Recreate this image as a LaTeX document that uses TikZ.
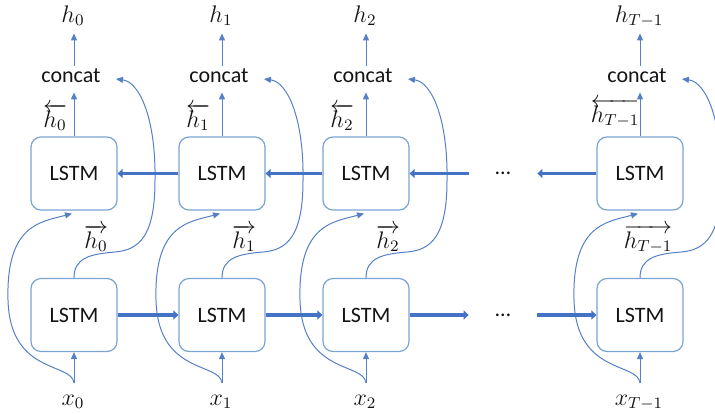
\documentclass[tikz,border=0pt]{standalone}
\usepackage{fontspec}
\setsansfont{Carlito}
\usetikzlibrary{arrows.meta}
\definecolor{linkblue}{RGB}{68,114,196}
\definecolor{curveblue}{RGB}{84,128,198}
\definecolor{boxblue}{RGB}{122,164,210}
\definecolor{inkgray}{RGB}{20,20,20}
\begin{document}
\begin{tikzpicture}[x=0.5pt,y=-0.5pt,
  lstm/.style={draw=boxblue, line width=0.6pt, rounded corners=5pt,
    minimum width=43pt, minimum height=36.5pt, inner sep=0pt,
    text=inkgray, font=\sffamily\fontsize{11}{13}\selectfont},
  cat/.style={anchor=base, inner xsep=7.5pt, inner ysep=1pt,
    text height=7pt, text depth=4pt, text=inkgray,
    font=\sffamily\fontsize{11}{13}\selectfont},
  outlbl/.style={anchor=base, inner sep=4pt, text depth=1.5pt,
    text=inkgray, font=\fontsize{11.5}{13}\selectfont},
  lbl/.style={anchor=base, inner sep=0pt, text=inkgray,
    font=\fontsize{11.5}{13}\selectfont},
  dotsnode/.style={minimum width=34pt, inner sep=0pt, text=inkgray,
    font=\sffamily\fontsize{11}{13}\selectfont},
  linkarr/.style={draw=curveblue, line width=0.5pt,
    -{Triangle[length=3.5pt,width=3pt]}},
  flowarr/.style={draw=linkblue, line width=1.75pt,
    -{Triangle[length=2.5pt,width=4.5pt]}},
]
\useasboundingbox (0,0) rectangle (715,413);
\clip (0,0) rectangle (715,413);

% one column per time step: backward LSTM on top, forward LSTM below
\foreach \i/\cx/\s/\la/\ly/\ra in {0/74/0/55/127/96, 1/222/1/198/127/244,
    2/366/2/342/127/388, 3/640/T-1/615/122/648}{
  \node[lstm] (t\i) at (\cx,173.5) {LSTM};
  \node[lstm] (b\i) at (\cx,315) {LSTM};
  \node[cat] (c\i) at (\cx-3,82) {concat};
  \node[outlbl] (o\i) at (\cx-1,22) {$h_{\s}$};
  \node[lbl] (x\i) at (\cx-1,405) {$x_{\s}$};
  \node[lbl] (lb\i) at (\la,\ly) {$\overleftarrow{h_{\s}}$};
  \node[lbl] (rb\i) at (\ra,248) {$\overrightarrow{h_{\s}}$};
  \coordinate (s\i) at (\cx,383);

  % input and output stems
  \draw[linkarr] (s\i) -- (b\i.south);
  \draw[linkarr] (t\i.north) -- (t\i.north |- c\i.south);
  \draw[linkarr] (t\i.north |- c\i.north) -- (t\i.north |- o\i.south);

  % input routed round to the backward cell
  \draw[linkarr] (s\i) .. controls (\cx-2,362) and (\cx-64,375) .. (\cx-66,300)
    .. controls (\cx-68,225) and (\cx-34,222) .. ([xshift=-1pt,yshift=-1.5pt]t\i.south);

  % forward state routed round to concat
  \draw[linkarr] (b\i.north) .. controls (\cx,258) and (\cx+16,254) .. (\cx+41,252)
    .. controls (\cx+66,250) and (\cx+81,235) .. (\cx+81,180)
    .. controls (\cx+82,120) and (\cx+66,82) .. (c\i.east);
}

\node[dotsnode] (dt) at (503,173.5) {…};
\node[dotsnode] (db) at (503,315) {…};

% backward recurrence
\draw[flowarr] (t1.west) -- (t0.east);
\draw[flowarr] (t2.west) -- (t1.east);
\draw[flowarr] (dt.west) -- (t2.east);
\draw[flowarr] (t3.west) -- (dt.east);

% forward recurrence
\draw[flowarr] (b0.east) -- (b1.west);
\draw[flowarr] (b1.east) -- (b2.west);
\draw[flowarr] (b2.east) -- (db.west);
\draw[flowarr] (db.east) -- (b3.west);
\end{tikzpicture}
\end{document}
